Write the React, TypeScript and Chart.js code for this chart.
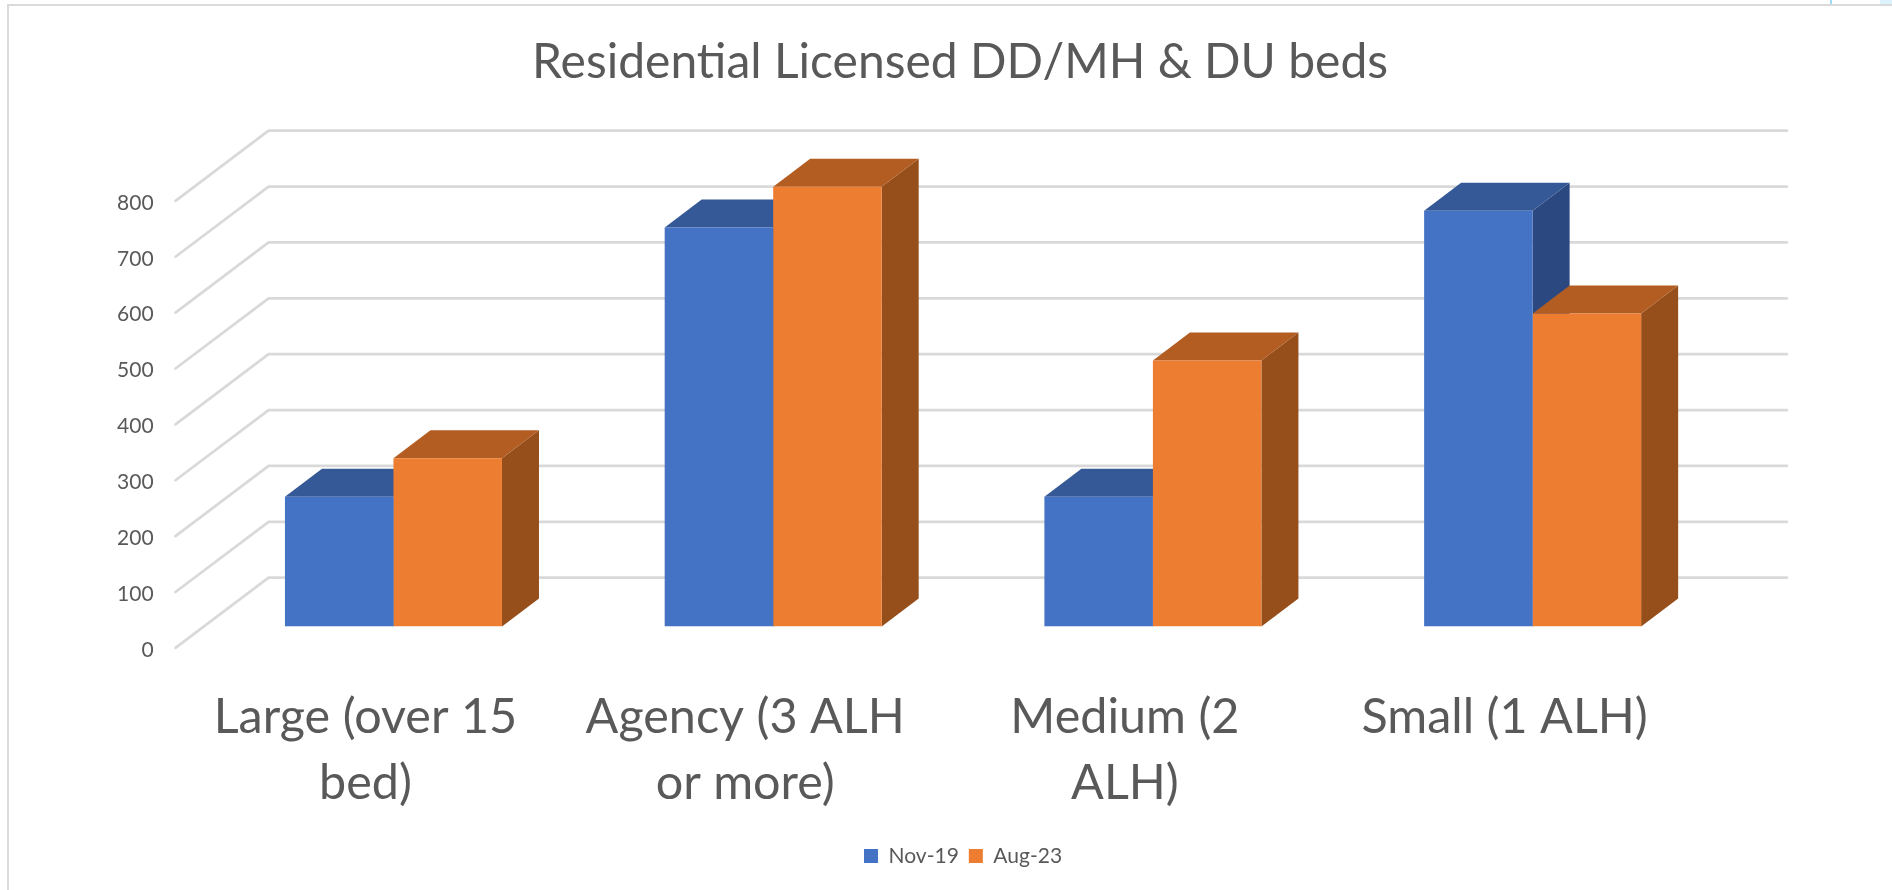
import React, { useEffect, useRef } from "react";
import { Chart, registerables } from "chart.js";

Chart.register(...registerables);

const titleText = "Residential Licensed DD/MH & DU beds";
const categories = [
  ["Large (over 15", "bed)"],
  ["Agency (3 ALH", "or more)"],
  ["Medium (2", "ALH)"],
  ["Small (1 ALH)"],
];
const seriesNames = ["Nov-19", "Aug-23"];
const nov19 = [232, 714, 232, 744];
const aug23 = [301, 787, 476, 560];
const frontColors = ["#4472C4", "#ED7D31"];
const topColors = ["#355896", "#B35D22"];
const sideColors = ["#2B4880", "#964E1B"];
const gridColor = "#D9D9D9";
const textColor = "#595959";
const fontFamily = "Lato, 'Noto Sans', sans-serif";

const depth3d = {
  id: "depth3d",
  afterLayout(chart: any) {
    if (chart.titleBlock) {
      chart.titleBlock.left -= 3;
      chart.titleBlock.right -= 3;
    }
  },
  beforeDatasetsDraw(chart: any) {
    const { ctx } = chart;
    const y = chart.scales.y;
    // walls
    ctx.save();
    ctx.strokeStyle = gridColor;
    ctx.lineWidth = 2.7;
    ctx.lineCap = "round";
    ctx.lineJoin = "round";
    y.ticks.forEach((t: any) => {
      const p = y.getPixelForValue(t.value);
      ctx.beginPath();
      ctx.moveTo(175.5, p + 21.4);
      ctx.lineTo(268.6, p - 48.8);
      ctx.lineTo(1787, p - 48.8);
      ctx.stroke();
    });
    ctx.restore();
    // bar top and side faces
    const dx = 37;
    const dy = 28;
    chart.data.labels.forEach((_: any, i: number) => {
      chart.data.datasets.forEach((_d: any, di: number) => {
        const b = chart.getDatasetMeta(di).data[i];
        const half = b.width / 2;
        const l = b.x - half;
        const r = b.x + half;
        const top = b.y;
        const base = b.base;
        ctx.fillStyle = sideColors[di];
        ctx.beginPath();
        ctx.moveTo(r, top);
        ctx.lineTo(r + dx, top - dy);
        ctx.lineTo(r + dx, base - dy);
        ctx.lineTo(r, base);
        ctx.closePath();
        ctx.fill();
        ctx.fillStyle = topColors[di];
        ctx.beginPath();
        ctx.moveTo(l, top);
        ctx.lineTo(l + dx, top - dy);
        ctx.lineTo(r + dx, top - dy);
        ctx.lineTo(r, top);
        ctx.closePath();
        ctx.fill();
      });
    });
  },
};

const frame = {
  id: "frame",
  beforeDraw(chart: any) {
    const { ctx, width, height } = chart;
    ctx.save();
    ctx.fillStyle = "#FFFFFF";
    ctx.fillRect(0, 0, width, height);
    ctx.fillStyle = "#DDF3FB";
    ctx.fillRect(1880, 0, 12, 4);
    ctx.fillStyle = "#9CDCF5";
    ctx.fillRect(1830, 0, 2, 4);
    ctx.fillStyle = "#DADADA";
    ctx.fillRect(7, 4, 1885, 2);
    ctx.fillRect(7, 4, 2, height - 4);
    ctx.restore();
  },
};

export default function App() {
  const ref = useRef<HTMLCanvasElement>(null);
  useEffect(() => {
    const chart = new Chart(ref.current as HTMLCanvasElement, {
      type: "bar",
      data: {
        labels: categories as any,
        datasets: [
          { label: seriesNames[0], data: nov19, backgroundColor: frontColors[0] },
          { label: seriesNames[1], data: aug23, backgroundColor: frontColors[1] },
        ],
      },
      plugins: [frame, depth3d],
      options: {
        responsive: false,
        animation: false,
        layout: { padding: { left: 0, right: 169.5, top: 0, bottom: 13.5 } },
        datasets: { bar: { barPercentage: 1, categoryPercentage: 0.5715 } },
        plugins: {
          tooltip: { enabled: false },
          title: {
            display: true,
            text: titleText,
            fullSize: false,
            color: textColor,
            font: { family: fontFamily, size: 48, weight: "normal" },
            padding: { top: 33.7, bottom: 88.2 },
          },
          legend: {
            position: "bottom",
            fullSize: false,
            labels: {
              color: textColor,
              font: { family: fontFamily, size: 21 },
              boxWidth: 14,
              boxHeight: 14,
              padding: 10,
            },
          },
        },
        scales: {
          x: {
            grid: { display: false },
            border: { display: false },
            afterFit(s: any) { s.height = 209; },
            ticks: {
              color: textColor,
              font: { family: fontFamily, size: 48.5, lineHeight: 1.36 },
              labelOffset: -28,
              maxRotation: 0,
              autoSkip: false,
              padding: 50,
            },
          },
          y: {
            min: 0,
            max: 800,
            grid: { display: false },
            border: { display: false },
            afterFit(s: any) { s.width = 203.6; },
            ticks: {
              stepSize: 100,
              color: textColor,
              font: { family: fontFamily, size: 21 },
              labelOffset: 23.4,
              padding: 42,
            },
          },
        },
      } as any,
    });
    return () => chart.destroy();
  }, []);
  return (
    <div style={{ position: "absolute", left: 0, top: 0, width: 1892, height: 890 }}>
      <canvas ref={ref} width={1892} height={890} style={{ display: "block" }} />
    </div>
  );
}
